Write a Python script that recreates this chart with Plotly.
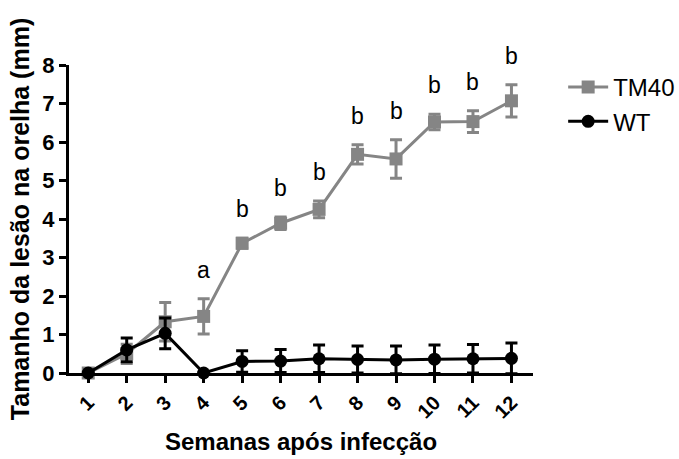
import plotly.graph_objects as go

weeks = [1, 2, 3, 4, 5, 6, 7, 8, 9, 10, 11, 12]
tm40_mean = [0.0, 0.50, 1.33, 1.47, 3.37, 3.89, 4.25, 5.68, 5.56, 6.52, 6.53, 7.07]
tm40_err = [0.03, 0.25, 0.50, 0.46, 0.13, 0.16, 0.22, 0.25, 0.50, 0.20, 0.28, 0.42]
wt_mean = [0.0, 0.60, 1.03, 0.0, 0.30, 0.31, 0.37, 0.35, 0.34, 0.36, 0.37, 0.38]
wt_err = [0.0, 0.31, 0.40, 0.0, 0.28, 0.30, 0.36, 0.35, 0.36, 0.37, 0.37, 0.40]
sig_letters = ["", "", "", "a", "b", "b", "b", "b", "b", "b", "b", "b"]

FONT = "Arial, Liberation Sans, sans-serif"
GRAY = "#858585"

fig = go.Figure()
fig.add_trace(go.Scatter(
    x=weeks, y=tm40_mean, name="TM40", mode="lines+markers",
    line=dict(color=GRAY, width=3),
    marker=dict(symbol="square", size=13, color=GRAY),
    error_y=dict(type="data", array=tm40_err, color=GRAY, thickness=3, width=6),
    cliponaxis=False,
))
fig.add_trace(go.Scatter(
    x=weeks, y=wt_mean, name="WT", mode="lines+markers",
    line=dict(color="black", width=3),
    marker=dict(symbol="circle", size=13, color="black"),
    error_y=dict(type="data", array=wt_err, color="black", thickness=3, width=6),
    cliponaxis=False,
))

for w, m, e, s in zip(weeks, tm40_mean, tm40_err, sig_letters):
    if s:
        fig.add_annotation(x=w, y=m + e, text=s, showarrow=False,
                           yanchor="bottom", yshift=14,
                           font=dict(family=FONT, size=23, color="black"))

fig.update_layout(
    width=679, height=459,
    margin=dict(l=69, r=146, t=65, b=86, autoexpand=False),
    paper_bgcolor="white", plot_bgcolor="white",
    font=dict(family=FONT, color="black"),
    showlegend=True,
    legend=dict(x=1.065, y=1.0, xanchor="left", yanchor="top",
                font=dict(family=FONT, size=24, color="black"),
                bgcolor="rgba(0,0,0,0)", itemwidth=40),
)
fig.update_xaxes(
    range=[0.5, 12.56], tickvals=weeks, ticktext=[str(w) for w in weeks],
    tickangle=-45, showgrid=False, zeroline=False, automargin=False,
    showline=True, linecolor="black", linewidth=3,
    ticks="outside", ticklen=7, tickwidth=3, tickcolor="black",
    tickfont=dict(family=FONT, size=20, color="black", weight="bold"),
    title=dict(text="Semanas após infecção", standoff=12,
               font=dict(family=FONT, size=24, color="black", weight="bold")),
)
fig.update_yaxes(
    range=[0, 8], tickvals=[0, 1, 2, 3, 4, 5, 6, 7, 8],
    showgrid=False, zeroline=False, automargin=False,
    showline=True, linecolor="black", linewidth=3,
    ticks="outside", ticklen=7, tickwidth=3, tickcolor="black",
    tickfont=dict(family=FONT, size=22, color="black", weight="bold"),
    title=dict(text="Tamanho da lesão na orelha (mm)", standoff=6,
               font=dict(family=FONT, size=25, color="black", weight="bold")),
)

fig.write_html("out.html")
